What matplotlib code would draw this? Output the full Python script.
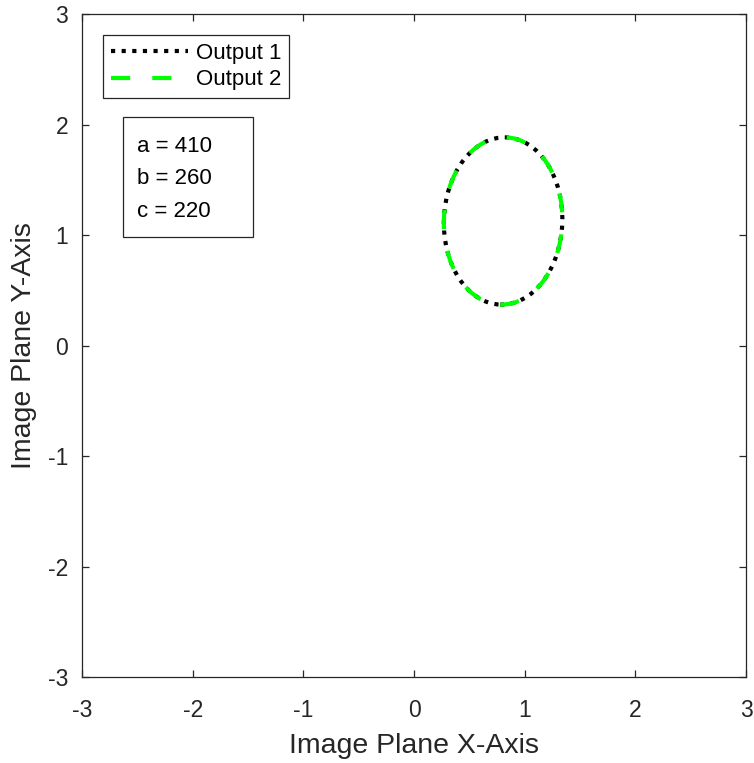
import matplotlib
matplotlib.use("Agg")
import matplotlib.pyplot as plt
from matplotlib.patches import Ellipse, Rectangle
from matplotlib.lines import Line2D

plt.rcParams['font.family'] = ['Liberation Sans', 'DejaVu Sans']

# Axis extent and ticks
x_limits = [-3, 3]
y_limits = [-3, 3]
x_ticks = [-3, -2, -1, 0, 1, 2, 3]
y_ticks = [-3, -2, -1, 0, 1, 2, 3]

# Projected contour of each output on the image plane:
# centre, full width / height and rotation in degrees
series_names = ["Output 1", "Output 2"]
center_x = [0.805, 0.805]
center_y = [1.13, 1.13]
contour_width = [1.07, 1.07]
contour_height = [1.515, 1.515]
contour_angle = [-2.0, -2.0]

# Parameters listed in the annotation box
param_names = ["a", "b", "c"]
param_values = [410, 260, 220]

ink = '#262626'
line_w = 3.0
series_styles = [
    dict(color='black', dashes=(1.0, 1.55)),
    dict(color='#00ff00', dashes=(4.6, 5.3)),
]

fig = plt.figure(figsize=(7.54, 7.63), dpi=100)
ax = fig.add_axes([0.1088, 0.1127, 0.8806, 0.8683])

handles = []
for i, name in enumerate(series_names):
    st = series_styles[i]
    ell = Ellipse((center_x[i], center_y[i]), contour_width[i], contour_height[i],
                  angle=contour_angle[i], fill=False, edgecolor=st['color'],
                  linestyle=(0, st['dashes']), linewidth=line_w,
                  capstyle='butt', zorder=2 + i)
    ax.add_patch(ell)
    handles.append(Line2D([], [], color=st['color'], linestyle=(0, st['dashes']),
                          linewidth=line_w, dash_capstyle='butt', label=name))

ax.set_xlim(x_limits)
ax.set_ylim(y_limits)
ax.set_xticks(x_ticks)
ax.set_yticks(y_ticks)
ax.set_xticklabels([str(t) for t in x_ticks])
ax.set_yticklabels([str(t) for t in y_ticks])

ax.tick_params(direction='in', length=4.8, width=0.9, top=True, right=True,
               labelsize=16.5, colors=ink)
ax.tick_params(axis='x', pad=15.8)
ax.tick_params(axis='y', pad=10)
for sp in ax.spines.values():
    sp.set_color(ink)
    sp.set_linewidth(0.9)

ax.set_xlabel("Image Plane X-Axis", fontsize=20.5, color=ink, labelpad=8)
ax.set_ylabel("Image Plane Y-Axis", fontsize=20.5, color=ink, labelpad=8)

leg = ax.legend(handles=handles, loc='upper left', bbox_to_anchor=(0.0312, 0.969),
                borderaxespad=0, fontsize=16, handlelength=3.47, handletextpad=0.36,
                borderpad=0.35, labelspacing=0.25, frameon=True, fancybox=False,
                edgecolor=ink, framealpha=1)
leg.get_frame().set_linewidth(0.9)
for t in leg.get_texts():
    t.set_color('black')

# Parameter annotation box
ax.add_patch(Rectangle((0.0617, 0.6642), 0.1958, 0.1815, transform=ax.transAxes,
                       facecolor='white', edgecolor=ink, linewidth=0.9, zorder=5))
line_step = 0.0486
for i, (n, v) in enumerate(zip(param_names, param_values)):
    ax.text(0.0824, 0.792 - i * line_step, f"{n} = {v}", transform=ax.transAxes,
            va='baseline', ha='left', fontsize=16, color='black', zorder=6)

fig.savefig("out.png", dpi=100)
